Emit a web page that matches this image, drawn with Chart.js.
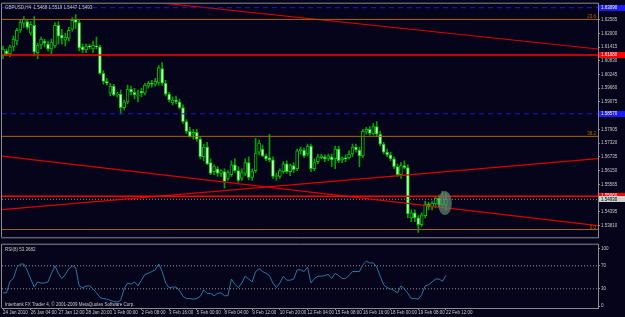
<!DOCTYPE html>
<html>
<head>
<meta charset="utf-8">
<script src="https://cdn.jsdelivr.net/npm/chart.js@4.4.1/dist/chart.umd.min.js"></script>
<style>
  html, body { margin: 0; padding: 0; background: #06041a; }
  #wrap { position: relative; width: 625px; height: 317px; overflow: hidden; background: #06041a; }
  #priceChart { position: absolute; left: 0; top: 0; }
  #rsiChart { position: absolute; left: 0; top: 241px; }
</style>
</head>
<body>
<div id="wrap">
  <canvas id="priceChart" width="625" height="241"></canvas>
  <canvas id="rsiChart" width="625" height="76"></canvas>
</div>
<script>
// GBPUSD H4, 24 Jan - 22 Feb 2010
const symbol = 'GBPUSD,H4';
const labelEvery = 8;
const timeLabels = ['24 Jan 2010', '26 Jan 04:00', '27 Jan 12:00', '28 Jan 20:00', '1 Feb 00:00',
  '2 Feb 08:00', '3 Feb 16:00', '5 Feb 00:00', '8 Feb 04:00', '9 Feb 12:00', '10 Feb 20:00',
  '12 Feb 04:00', '15 Feb 08:00', '16 Feb 16:00', '18 Feb 00:00', '19 Feb 08:00', '22 Feb 12:00'];

const opens = [
  1.6104,1.6125,1.6112,1.6142,1.6167,1.6213,1.6242,1.6250,1.6200,1.6234,
  1.6117,1.6150,1.6167,1.6154,1.6133,1.6146,1.6234,1.6192,1.6171,1.6179,
  1.6217,1.6259,1.6246,1.6142,1.6129,1.6146,1.6133,1.6146,1.6142,1.6029,
  1.5995,1.5945,1.5975,1.5937,1.5941,1.5883,1.5908,1.5962,1.5949,1.5933,
  1.5954,1.5945,1.5975,1.5987,1.5983,1.5991,1.6050,1.5987,1.5941,1.5903,
  1.5916,1.5908,1.5883,1.5824,1.5782,1.5770,1.5778,1.5749,1.5674,1.5715,
  1.5649,1.5611,1.5623,1.5603,1.5611,1.5582,1.5598,1.5640,1.5615,1.5582,
  1.5603,1.5649,1.5586,1.5615,1.5694,1.5707,1.5678,1.5670,1.5661,1.5590,
  1.5590,1.5611,1.5644,1.5611,1.5636,1.5623,1.5699,1.5703,1.5686,1.5720,
  1.5623,1.5653,1.5670,1.5674,1.5665,1.5674,1.5665,1.5707,1.5661,1.5670,
  1.5670,1.5686,1.5715,1.5703,1.5678,1.5782,1.5791,1.5774,1.5803,1.5770,
  1.5728,1.5694,1.5682,1.5665,1.5632,1.5598,1.5636,1.5628,1.5414,1.5435,
  1.5414,1.5385,1.5423,1.5473,1.5460,1.5473,1.5498,1.5469,1.5468];
const highs = [
  1.6146,1.6133,1.6150,1.6188,1.6221,1.6255,1.6271,1.6259,1.6250,1.6271,
  1.6158,1.6184,1.6175,1.6167,1.6175,1.6246,1.6250,1.6217,1.6200,1.6225,
  1.6267,1.6280,1.6259,1.6154,1.6154,1.6154,1.6167,1.6184,1.6150,1.6041,
  1.6008,1.5987,1.5983,1.5949,1.5958,1.5916,1.5979,1.5975,1.5966,1.5958,
  1.5966,1.5987,1.5995,1.6000,1.6008,1.6062,1.6075,1.6000,1.5949,1.5929,
  1.5933,1.5920,1.5895,1.5832,1.5799,1.5791,1.5791,1.5757,1.5728,1.5736,
  1.5665,1.5640,1.5632,1.5619,1.5623,1.5615,1.5657,1.5665,1.5632,1.5623,
  1.5665,1.5674,1.5623,1.5753,1.5745,1.5724,1.5686,1.5770,1.5674,1.5603,
  1.5623,1.5653,1.5657,1.5644,1.5649,1.5707,1.5715,1.5711,1.5728,1.5728,
  1.5665,1.5686,1.5686,1.5682,1.5686,1.5686,1.5720,1.5720,1.5674,1.5682,
  1.5699,1.5728,1.5728,1.5715,1.5791,1.5799,1.5803,1.5816,1.5824,1.5782,
  1.5736,1.5707,1.5694,1.5674,1.5644,1.5649,1.5657,1.5640,1.5448,1.5448,
  1.5423,1.5435,1.5485,1.5481,1.5485,1.5506,1.5511,1.5527,1.5519];
const lows = [
  1.6092,1.6104,1.6100,1.6125,1.6150,1.6204,1.6225,1.6217,1.6192,1.6104,
  1.6092,1.6133,1.6142,1.6125,1.6112,1.6138,1.6154,1.6154,1.6146,1.6167,
  1.6209,1.6221,1.6125,1.6117,1.6117,1.6133,1.6117,1.6133,1.6025,1.5983,
  1.5979,1.5933,1.5933,1.5929,1.5857,1.5874,1.5899,1.5937,1.5920,1.5908,
  1.5929,1.5937,1.5966,1.5970,1.5975,1.5979,1.5979,1.5933,1.5908,1.5895,
  1.5899,1.5878,1.5816,1.5774,1.5757,1.5749,1.5740,1.5665,1.5657,1.5640,
  1.5598,1.5598,1.5590,1.5590,1.5540,1.5573,1.5590,1.5607,1.5565,1.5573,
  1.5594,1.5577,1.5573,1.5607,1.5682,1.5674,1.5657,1.5653,1.5582,1.5573,
  1.5582,1.5603,1.5603,1.5594,1.5607,1.5615,1.5686,1.5670,1.5678,1.5611,
  1.5615,1.5644,1.5665,1.5653,1.5657,1.5632,1.5623,1.5649,1.5649,1.5653,
  1.5665,1.5674,1.5694,1.5632,1.5670,1.5770,1.5766,1.5766,1.5761,1.5720,
  1.5686,1.5674,1.5657,1.5623,1.5590,1.5582,1.5623,1.5414,1.5398,1.5398,
  1.5352,1.5377,1.5414,1.5448,1.5448,1.5456,1.5460,1.5465,1.5447];
const closes = [
  1.6133,1.6112,1.6142,1.6175,1.6213,1.6246,1.6259,1.6225,1.6238,1.6121,
  1.6150,1.6175,1.6158,1.6133,1.6163,1.6234,1.6188,1.6179,1.6184,1.6213,
  1.6255,1.6246,1.6138,1.6129,1.6146,1.6142,1.6150,1.6142,1.6029,1.5995,
  1.5987,1.5975,1.5937,1.5941,1.5883,1.5908,1.5962,1.5949,1.5937,1.5937,
  1.5945,1.5979,1.5987,1.5983,1.5995,1.6054,1.5987,1.5941,1.5916,1.5916,
  1.5908,1.5883,1.5824,1.5782,1.5761,1.5778,1.5749,1.5674,1.5715,1.5644,
  1.5603,1.5632,1.5603,1.5615,1.5569,1.5607,1.5640,1.5615,1.5573,1.5607,
  1.5649,1.5586,1.5611,1.5690,1.5732,1.5678,1.5665,1.5661,1.5590,1.5594,
  1.5615,1.5644,1.5611,1.5636,1.5619,1.5699,1.5707,1.5678,1.5720,1.5623,
  1.5649,1.5674,1.5678,1.5665,1.5678,1.5661,1.5707,1.5657,1.5670,1.5665,
  1.5686,1.5715,1.5703,1.5678,1.5782,1.5791,1.5774,1.5803,1.5770,1.5728,
  1.5694,1.5682,1.5665,1.5632,1.5598,1.5636,1.5628,1.5431,1.5435,1.5414,
  1.5385,1.5427,1.5473,1.5460,1.5477,1.5498,1.5469,1.5506,1.5493];

const rsiValues = [
  23,23,43,48,67,73,73,62,47,33, 42,40,40,42,57,70,57,48,55,65,
  70,67,35,32,35,35,30,23,15,13, 12,10,8,7,10,30,40,38,42,35,
  45,55,57,60,63,73,60,40,32,33, 33,27,17,13,13,12,13,17,28,22,
  22,18,22,23,18,18,47,38,32,40, 52,47,42,60,65,60,57,53,40,32,
  40,52,45,45,47,63,63,60,68,40, 48,52,52,53,55,48,57,53,48,48,
  53,60,60,60,72,78,75,75,68,52, 37,32,30,27,23,35,30,22,13,13,
  12,20,35,37,42,47,47,43,53.3682];

const priceTicks = [1.62585, 1.62000, 1.61415, 1.60830, 1.60245, 1.59660, 1.59075, 1.58490,
  1.57905, 1.57320, 1.56735, 1.56150, 1.55565, 1.54980, 1.54395, 1.53810];
const rsiTicks = [0, 30, 70, 100];
const rsiLevels = [30, 70];

// objects drawn on the chart
const blueLevels = [1.6309, 1.5857];
const redLevels = [1.6108, 1.5506];
const fibLevels = [1.6259, 1.5761, 1.5364];
const fibNames = ['23.6', '38.2', '0.0'];
const trendStartBar = [45, -1, -1];
const trendStartPrice = [1.6330, 1.5678, 1.5448];
const trendEndBar = [172, 172, 172];
const trendEndPrice = [1.6133, 1.5381, 1.5666];
const ellipseBar = 127.7;
const ellipsePrice = 1.5477;

const priceMin = 1.5331, priceMax = 1.6326;
const xMin = -0.3, xMax = 171.95;

const bg = '#06041a';
const axisText = '#c8c8c8';
const frameColor = '#8c8c8c';
const fontFamily = '"Liberation Sans", Arial, sans-serif';
Chart.defaults.font.family = fontFamily;
Chart.defaults.font.size = 4.5;

const bars = opens.map((o, i) => i);
const flat = p => [{x: xMin, y: p}, {x: xMax, y: p}];
const lastClose = closes[closes.length - 1];

const objectSets = [];
blueLevels.forEach(p => objectSets.push({type: 'line', data: flat(p), borderColor: '#1a1ad0', borderWidth: 1, borderDash: [5, 4]}));
fibLevels.forEach(p => objectSets.push({type: 'line', data: flat(p), borderColor: '#a8680c', borderWidth: 1}));
redLevels.forEach(p => objectSets.push({type: 'line', data: flat(p), borderColor: '#ff0000', borderWidth: 1.5}));
trendStartBar.forEach((b, k) => objectSets.push({type: 'line',
  data: [{x: b, y: trendStartPrice[k]}, {x: trendEndBar[k], y: trendEndPrice[k]}],
  borderColor: '#e00000', borderWidth: 1.2}));
objectSets.push({type: 'line', data: flat(lastClose), borderColor: '#909090', borderWidth: 1, borderDash: [1, 2]});
objectSets.forEach(d => { d.pointRadius = 0; d.order = 1; });

function frame(chart, withBottom) {
  const {ctx, chartArea: a} = chart;
  ctx.save();
  ctx.strokeStyle = frameColor;
  ctx.lineWidth = 1;
  ctx.beginPath();
  ctx.moveTo(a.left - 0.5, a.bottom);
  ctx.lineTo(a.left - 0.5, a.top - 0.5);
  ctx.lineTo(a.right, a.top - 0.5);
  if (withBottom) {
    ctx.moveTo(a.left - 0.5, a.bottom + 0.5);
    ctx.lineTo(a.right, a.bottom + 0.5);
  }
  ctx.stroke();
  ctx.restore();
}

function axisBox(chart, price, fill, color) {
  const {ctx, chartArea: a} = chart;
  const y = chart.scales.y.getPixelForValue(price);
  ctx.fillStyle = fill;
  ctx.fillRect(a.right + 1, Math.round(y) - 3, chart.width - a.right - 1, 6);
  ctx.fillStyle = color;
  ctx.font = '4.5px ' + fontFamily;
  ctx.textBaseline = 'middle';
  ctx.textAlign = 'left';
  ctx.fillText(price.toFixed(5), a.right + 3, y);
}

const priceDecor = {
  id: 'priceDecor',
  afterDatasetsDraw(chart) {
    const {ctx} = chart;
    const cx = chart.scales.x.getPixelForValue(ellipseBar);
    const cy = chart.scales.y.getPixelForValue(ellipsePrice);
    ctx.save();
    ctx.fillStyle = 'rgba(95, 135, 118, 0.7)';
    ctx.beginPath();
    ctx.ellipse(cx, cy, 7, 12, 0, 0, Math.PI * 2);
    ctx.fill();
    ctx.restore();
  },
  afterDraw(chart) {
    const {ctx, chartArea: a} = chart;
    frame(chart, true);
    ctx.save();
    ctx.font = '4.5px ' + fontFamily;
    ctx.textBaseline = 'middle';
    ctx.fillStyle = axisText;
    ctx.fillText(symbol + '  ' + [opens, highs, lows, closes].map(s => s[s.length - 1].toFixed(4)).join(' '), a.left + 3, a.top + 4);
    ctx.fillStyle = '#a8680c';
    ctx.textAlign = 'right';
    ctx.textBaseline = 'bottom';
    fibLevels.forEach((p, k) => ctx.fillText(fibNames[k], a.right - 2, chart.scales.y.getPixelForValue(p)));
    blueLevels.forEach(p => axisBox(chart, p, '#1a1aff', '#ffffff'));
    redLevels.forEach(p => axisBox(chart, p, '#ff0000', '#ffffff'));
    axisBox(chart, lastClose, '#d0d0d0', '#000000');
    ctx.restore();
  }
};

new Chart(document.getElementById('priceChart'), {
  type: 'bar',
  data: {
    datasets: [
      {data: bars.map(i => ({x: i, y: [lows[i], highs[i]]})), backgroundColor: '#00a000',
        barThickness: 1, grouped: false, order: 3},
      {data: bars.map(i => ({x: i, y: [opens[i], closes[i]]})),
        backgroundColor: c => closes[c.dataIndex] >= opens[c.dataIndex] ? bg : '#c8ffc8',
        borderColor: '#00c000', borderWidth: 1, borderSkipped: false,
        barThickness: 3, grouped: false, order: 2},
      ...objectSets
    ]
  },
  options: {
    responsive: false,
    animation: false,
    layout: {padding: {left: 2, top: 2, bottom: 1, right: 0}},
    plugins: {legend: {display: false}, tooltip: {enabled: false}},
    scales: {
      x: {type: 'linear', min: xMin, max: xMax, offset: false, display: false, grid: {offset: false}},
      y: {
        position: 'right', min: priceMin, max: priceMax,
        afterBuildTicks: s => { s.ticks = priceTicks.map(v => ({value: v})); },
        afterFit: s => { s.width = 27; },
        ticks: {color: axisText, padding: 1, autoSkip: false, callback: v => v.toFixed(5)},
        grid: {drawOnChartArea: false, tickLength: 2, color: frameColor},
        border: {color: frameColor}
      }
    }
  },
  plugins: [priceDecor]
});

const rsiDecor = {
  id: 'rsiDecor',
  afterDraw(chart) {
    const {ctx, chartArea: a} = chart;
    frame(chart, false);
    ctx.save();
    ctx.font = '4.5px ' + fontFamily;
    ctx.fillStyle = axisText;
    ctx.textBaseline = 'middle';
    ctx.fillText('RSI(8) ' + rsiValues[rsiValues.length - 1].toFixed(4), a.left + 3, a.top + 5);
    ctx.fillText('Interbank FX Trader 4, \u00a9 2001-2009 MetaQuotes Software Corp.', a.left + 3, a.bottom - 3);
    ctx.restore();
  }
};

new Chart(document.getElementById('rsiChart'), {
  type: 'line',
  data: {
    datasets: [
      {data: rsiValues.map((v, i) => ({x: i, y: v})), borderColor: '#2a78a6', borderWidth: 1,
        pointRadius: 0, tension: 0, order: 1},
      ...rsiLevels.map(l => ({data: flat(l), borderColor: '#9a9a9a', borderWidth: 1,
        borderDash: [1, 2], pointRadius: 0, order: 2}))
    ]
  },
  options: {
    responsive: false,
    animation: false,
    layout: {padding: {left: 2, top: 1, bottom: 0, right: 0}},
    plugins: {legend: {display: false}, tooltip: {enabled: false}},
    scales: {
      x: {
        type: 'linear', min: xMin, max: xMax,
        afterBuildTicks: s => { s.ticks = timeLabels.map((t, k) => ({value: k * labelEvery})); },
        afterFit: s => { s.height = 9; },
        ticks: {color: axisText, align: 'start', padding: 0, maxRotation: 0, autoSkip: false,
          callback: v => timeLabels[v / labelEvery]},
        grid: {drawOnChartArea: false, tickLength: 2, color: frameColor},
        border: {color: frameColor}
      },
      y: {
        position: 'right', min: -3.33, max: 106.67,
        afterBuildTicks: s => { s.ticks = rsiTicks.map(v => ({value: v})); },
        afterFit: s => { s.width = 27; },
        ticks: {color: axisText, padding: 1, autoSkip: false},
        grid: {drawOnChartArea: false, tickLength: 2, color: frameColor},
        border: {color: frameColor}
      }
    }
  },
  plugins: [rsiDecor]
});
</script>
</body>
</html>
